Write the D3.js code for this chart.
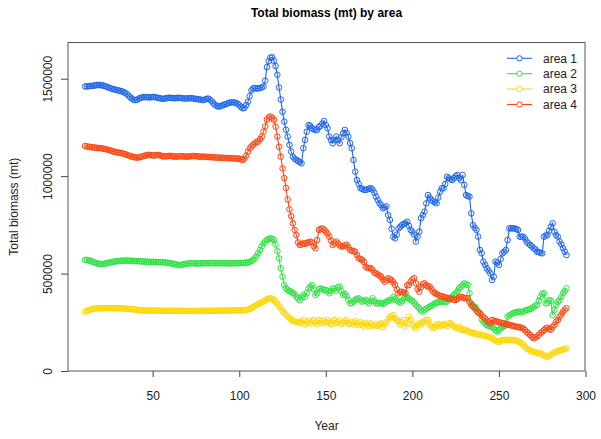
<!DOCTYPE html>
<html lang="en">
	<head>
		<meta charset="utf-8">
		<title>Total biomass (mt) by area</title>
		<script type="text/javascript" src="https://cdn.jsdelivr.net/npm/d3@7/dist/d3.min.js"></script>
		<style type="text/css">
		body{
			margin: 0;
			background-color: #ffffff;
		}
		svg{
			display: block;
		}
		text{
			font-family: "Liberation Sans", Arial, sans-serif;
		}
		</style>
	</head>
	<body>
		<div id="chart"></div>
		<script type="text/javascript">

			//years 11..289, one value per year
			var years = d3.range(11, 290);

			//biomass values in thousand mt
			var area1 = [
				1460,1460,1462,1462,1463,1465,1465,1468,1468,1466,
				1466,1463,1460,1457,1453,1450,1447,1445,1443,1440,
				1438,1436,1432,1428,1422,1414,1405,1398,1392,1390,
				1392,1398,1402,1404,1405,1406,1405,1404,1405,1406,
				1406,1404,1402,1400,1398,1397,1398,1400,1402,1402,
				1401,1400,1400,1401,1402,1401,1400,1399,1398,1399,
				1400,1400,1399,1398,1396,1395,1394,1392,1390,1392,
				1396,1398,1393,1385,1375,1366,1360,1357,1358,1362,
				1366,1368,1372,1376,1378,1379,1378,1376,1372,1365,
				1355,1348,1350,1365,1382,1410,1440,1450,1452,1450,
				1450,1452,1455,1460,1490,1560,1590,1608,1610,1592,
				1565,1520,1455,1393,1330,1280,1238,1203,1160,1126,
				1100,1090,1083,1078,1072,1066,1143,1186,1228,1262,
				1258,1246,1240,1236,1238,1252,1258,1270,1283,1262,
				1246,1203,1185,1169,1185,1203,1185,1169,1200,1220,
				1237,1220,1203,1170,1143,1083,1023,980,960,938,
				935,930,929,932,936,938,930,915,895,878,
				861,850,835,840,845,800,775,730,689,681,
				700,732,740,749,755,758,766,745,724,715,
				700,664,690,715,784,800,818,860,903,890,
				878,870,865,861,890,920,938,938,960,997,
				990,985,980,990,1000,1006,990,980,1006,955,
				903,898,895,809,749,735,724,690,621,604,
				561,545,527,514,501,467,484,561,555,544,
				575,604,612,621,672,732,732,732,732,728,
				724,689,689,689,680,664,655,647,640,630,
				625,612,610,606,604,689,695,698,720,740,
				758,715,698,690,664,650,630,612,595
			];

			var area2 = [
				570,570,568,566,562,558,555,552,550,549,
				549,550,552,554,556,558,560,562,563,564,
				565,566,566,567,567,566,566,565,565,564,
				564,563,563,562,562,561,561,560,560,560,
				560,559,559,559,558,558,557,556,555,553,
				552,550,548,546,544,544,546,548,550,551,
				552,553,553,553,552,552,552,553,553,553,
				553,553,553,553,553,553,553,553,553,553,
				553,553,553,552,552,553,553,553,553,554,
				554,554,555,556,557,560,565,570,578,590,
				605,621,640,655,664,672,678,681,678,672,
				650,615,578,527,484,441,425,416,410,407,
				400,395,381,372,364,378,390,381,400,424,
				432,441,420,390,399,420,424,420,416,416,
				410,399,410,424,420,412,430,433,410,390,
				395,385,365,347,350,356,365,370,373,365,
				356,360,365,356,347,360,373,360,347,347,
				350,348,345,350,356,360,365,362,380,370,
				362,356,350,358,370,381,378,372,365,360,
				350,340,330,322,310,305,313,320,325,330,
				335,340,347,350,353,356,356,356,356,356,
				365,375,381,390,399,410,425,433,440,450,
				445,441,399,347,335,330,320,304,295,265,
				253,245,236,232,230,227,220,210,202,210,
				219,225,230,236,279,285,290,296,300,302,
				304,304,302,305,310,313,315,318,322,328,
				335,339,360,381,395,399,347,350,364,360,
				287,313,340,355,364,380,399,410,424
			];

			var area3 = [
				304,308,312,315,318,320,321,322,322,322,
				322,322,323,323,323,323,323,322,322,322,
				322,321,321,320,320,319,318,317,316,315,
				314,313,312,311,311,310,310,310,310,310,
				310,310,310,310,309,309,309,309,309,309,
				309,309,309,309,309,309,308,308,308,308,
				308,308,308,308,308,308,308,308,309,309,
				309,309,309,309,309,309,309,310,310,310,
				310,310,310,310,310,310,310,311,311,311,
				311,311,312,313,315,318,322,328,334,339,
				344,348,352,356,362,368,372,373,370,365,
				355,345,335,322,308,298,290,280,272,265,
				258,254,253,250,248,255,262,240,250,258,
				245,255,262,250,240,262,255,245,258,250,
				262,248,240,255,262,245,250,258,240,248,
				255,262,245,240,250,238,255,245,235,250,
				240,228,245,238,230,245,235,228,240,232,
				238,245,225,240,250,265,279,275,287,270,
				262,255,240,250,262,227,245,279,262,240,
				228,219,235,245,240,250,255,262,262,240,
				230,219,225,236,240,230,236,240,236,230,
				245,245,238,228,222,219,225,215,210,212,
				210,205,200,198,193,195,190,188,185,185,
				182,180,178,176,172,168,162,158,152,150,
				155,158,160,159,159,160,159,159,158,155,
				152,148,142,135,125,116,110,105,100,99,
				96,93,91,91,85,80,75,73,78,82,
				90,95,99,102,105,108,110,113,116
			];

			var area4 = [
				1155,1153,1150,1150,1148,1147,1146,1145,1144,1143,
				1142,1140,1138,1136,1133,1130,1127,1125,1123,1121,
				1120,1118,1116,1113,1110,1106,1103,1100,1098,1096,
				1095,1096,1098,1101,1104,1106,1108,1109,1108,1106,
				1106,1108,1109,1107,1104,1102,1101,1102,1103,1104,
				1103,1101,1100,1100,1101,1102,1102,1101,1100,1100,
				1101,1102,1103,1103,1102,1101,1100,1100,1100,1100,
				1099,1098,1098,1097,1096,1096,1095,1095,1095,1094,
				1094,1093,1093,1093,1092,1092,1091,1090,1090,1090,
				1086,1083,1090,1105,1125,1143,1152,1160,1168,1175,
				1177,1190,1203,1228,1255,1290,1302,1306,1300,1289,
				1254,1203,1151,1100,1040,990,940,880,830,795,
				758,724,698,660,647,650,655,652,658,660,
				664,660,640,630,672,724,728,732,725,715,
				705,689,670,647,655,664,655,645,638,640,
				645,647,635,621,618,615,612,595,578,575,
				570,560,535,530,528,527,520,505,501,495,
				490,484,470,458,465,476,470,467,455,441,
				420,399,405,407,403,399,440,441,458,470,
				476,450,420,407,430,445,450,440,433,433,
				420,407,400,395,390,385,383,381,378,375,
				373,370,368,366,364,370,378,381,378,375,
				373,373,355,339,330,322,310,300,296,285,
				275,270,260,250,245,262,258,255,253,250,
				248,245,244,242,240,236,234,232,230,227,
				226,224,222,219,210,200,193,185,175,168,
				172,176,185,195,202,210,219,222,215,212,
				225,236,253,262,279,290,304,315,322
			];

			var seriesNames = ["area 1", "area 2", "area 3", "area 4"];
			var seriesColors = ["#1f66ea", "#2fe244", "#ffd700", "#ff4510"];
			var xTicks = [50, 100, 150, 200, 250, 300];
			var yTicks = [0, 500000, 1000000, 1500000];

			//plot frame (names avoid window.top)
			var w = 601;
			var h = 439;
			var plotL = 68, plotR = 585, plotT = 42.5, plotB = 371;

			var svg = d3.select("#chart")
						.append("svg")
						.attr("width", w)
						.attr("height", h);

			var x = d3.scaleLinear().domain([1.1, 299.7]).range([plotL, plotR]);
			var y = d3.scaleLinear().domain([0, 1685800]).range([plotB, plotT]);

			//title
			svg.append("text")
			   .attr("x", (plotL + plotR) / 2)
			   .attr("y", 16.5)
			   .attr("text-anchor", "middle")
			   .attr("font-size", "12px")
			   .attr("font-weight", "bold")
			   .text("Total biomass (mt) by area");

			//x axis
			var xAxis = svg.append("g")
			   .attr("transform", "translate(0," + plotB + ")")
			   .call(d3.axisBottom(x).tickValues(xTicks).tickSize(6).tickFormat(d3.format("d")));
			xAxis.select(".domain").remove();
			xAxis.selectAll("line").attr("stroke", "#444");
			xAxis.selectAll("text")
			   .attr("dy", null)
			   .attr("y", 28.5)
			   .attr("font-size", "12px")
			   .attr("font-family", "'Liberation Sans', Arial, sans-serif")
			   .attr("fill", "#222");

			//y axis, labels turned like R does
			var yAxis = svg.append("g")
			   .attr("transform", "translate(" + plotL + ",0)")
			   .call(d3.axisLeft(y).tickValues(yTicks).tickSize(7).tickFormat(d3.format("d")));
			yAxis.select(".domain").remove();
			yAxis.selectAll("line").attr("stroke", "#444");
			yAxis.selectAll("text")
			   .attr("x", null)
			   .attr("dy", null)
			   .attr("text-anchor", "middle")
			   .attr("transform", "translate(-16,0) rotate(-90)")
			   .attr("font-size", "12px")
			   .attr("font-family", "'Liberation Sans', Arial, sans-serif")
			   .attr("fill", "#222");

			//axis titles
			svg.append("text")
			   .attr("x", (plotL + plotR) / 2)
			   .attr("y", 430)
			   .attr("text-anchor", "middle")
			   .attr("font-size", "12px")
			   .attr("fill", "#222")
			   .text("Year");

			svg.append("text")
			   .attr("transform", "translate(18," + ((plotT + plotB) / 2) + ") rotate(-90)")
			   .attr("text-anchor", "middle")
			   .attr("font-size", "12px")
			   .attr("fill", "#222")
			   .text("Total biomass (mt)");

			//plot box
			svg.append("rect")
			   .attr("x", plotL)
			   .attr("y", plotT)
			   .attr("width", plotR - plotL)
			   .attr("height", plotB - plotT)
			   .attr("fill", "none")
			   .attr("stroke", "#555")
			   .attr("stroke-width", 1);

			var allSeries = [area1, area2, area3, area4];

			var line = d3.line()
			   .x(function(d) { return x(d.year); })
			   .y(function(d) { return y(d.value); });

			//lines with open circles (type = "o")
			allSeries.forEach(function(vals, k) {
				var pts = years.map(function(yr, i) {
					return { year: yr, value: vals[i] * 1000 };
				});
				var g = svg.append("g");
				g.append("path")
				 .datum(pts)
				 .attr("d", line)
				 .attr("fill", "none")
				 .attr("stroke", seriesColors[k])
				 .attr("stroke-width", 1.1);
				g.selectAll("circle")
				 .data(pts)
				 .enter()
				 .append("circle")
				 .attr("cx", function(d) { return x(d.year); })
				 .attr("cy", function(d) { return y(d.value); })
				 .attr("r", 2.8)
				 .attr("fill", "none")
				 .attr("stroke", seriesColors[k])
				 .attr("stroke-width", 1);
			});

			//legend, no box
			var legend = svg.append("g");
			seriesNames.forEach(function(name, k) {
				var ly = 58.3 + k * 15.4;
				legend.append("line")
				   .attr("x1", 507).attr("x2", 532)
				   .attr("y1", ly).attr("y2", ly)
				   .attr("stroke", seriesColors[k])
				   .attr("stroke-width", 1.1);
				legend.append("circle")
				   .attr("cx", 519.5).attr("cy", ly)
				   .attr("r", 2.6)
				   .attr("fill", "#fff")
				   .attr("stroke", seriesColors[k])
				   .attr("stroke-width", 1);
				legend.append("text")
				   .attr("x", 543)
				   .attr("y", ly)
				   .attr("dy", "0.36em")
				   .attr("font-size", "12px")
				   .attr("fill", "#222")
				   .text(name);
			});

		</script>
	</body>
</html>
